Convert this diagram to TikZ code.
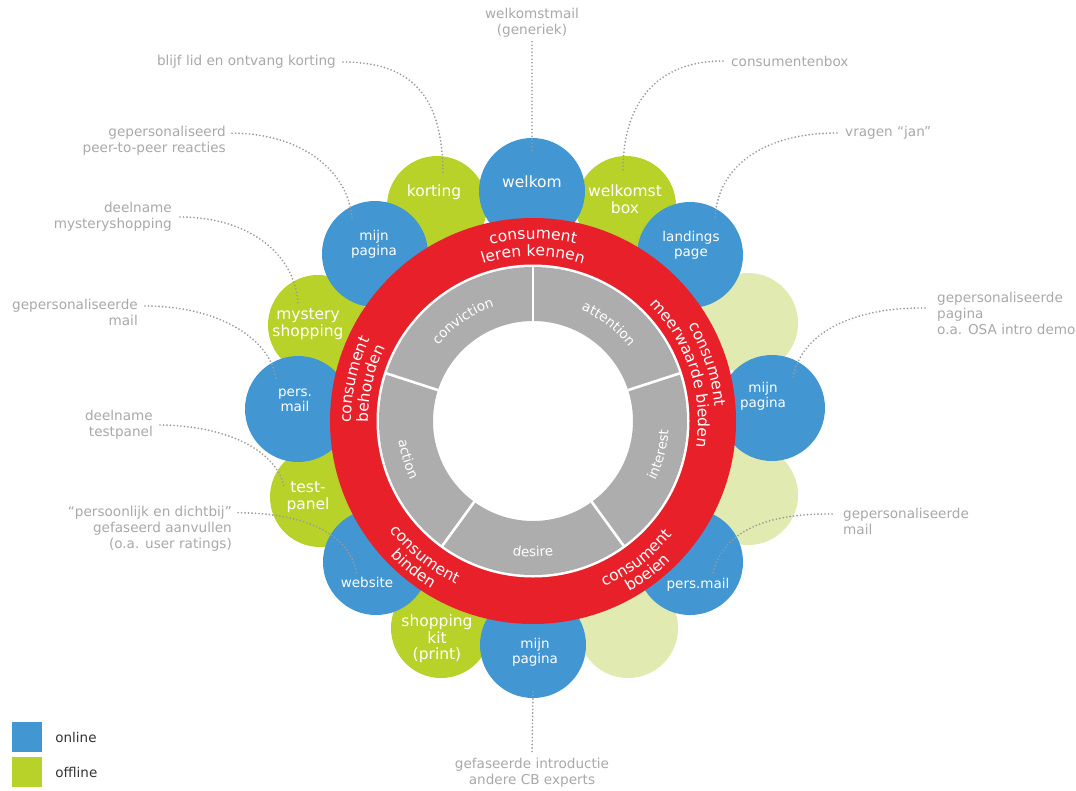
\documentclass[tikz,border=0pt]{standalone}
\usepackage{fontspec}
\setmainfont{DejaVu Sans}
\usetikzlibrary{decorations.text,calc}
\definecolor{cblue}{HTML}{4296D2}
\definecolor{cgreen}{HTML}{B9D22A}
\definecolor{cpale}{HTML}{E1EAB0}
\definecolor{cred}{HTML}{E8202A}
\definecolor{cgrey}{HTML}{ADADAD}
\definecolor{cann}{HTML}{A9A9A9}
\definecolor{cdot}{HTML}{9B9B9B}
\definecolor{clegend}{HTML}{333333}
\newcommand\myredfont{\fontsize{15.5}{18}\selectfont}
\newcommand\mygreyfont{\fontsize{13.5}{16}\selectfont}
\tikzset{
  bluec/.style={circle, fill=cblue, minimum size=106pt, inner sep=0pt},
  greenc/.style={circle, fill=cgreen, minimum size=100pt, inner sep=0pt},
  palec/.style={circle, fill=cpale, minimum size=100pt, inner sep=0pt},
  ctxt/.style={text=white, align=center, font=\fontsize{13.5}{15}\selectfont, inner sep=0pt},
  ctxtbig/.style={ctxt, font=\fontsize{15.5}{16.5}\selectfont},
  ann/.style={text=cann, font=\fontsize{13.6}{16}\selectfont, inner sep=0pt},
  conn/.style={draw=cdot, line width=1.9pt, line cap=round, dash pattern=on 0pt off 3.5pt},
  legbox/.style={minimum size=30pt, inner sep=0pt},
  legtext/.style={text=clegend, font=\fontsize{13.5}{16}\selectfont, inner sep=0pt, anchor=west},
  redlbl/.style={decorate, decoration={text along path, text align=center, text color=white, text={|\myredfont|#1}}},
  greylbl/.style={decorate, decoration={text along path, text align=center, text color=white, text={|\mygreyfont|#1}}}
}
\begin{document}
\begin{tikzpicture}[x=1pt,y=1pt]
\useasboundingbox (0,0) rectangle (1076,-790);
\fill[white] (0,0) rectangle (1076,-790);

% green (offline) circles
\node[greenc] (korting) at (437,-206) {};
\node[greenc] (wbox) at (626,-206) {};
\node[palec] (pale1) at (748,-323) {};
\node[palec] (pale2) at (748,-495) {};
\node[palec] (pale3) at (628,-628) {};
\node[greenc] (shop) at (441,-628) {};
\node[greenc] (test) at (320,-497) {};
\node[greenc] (myst) at (318,-325) {};
% blue (online) circles
\node[bluec] (welkom) at (532,-191) {};
\node[bluec] (landing) at (690,-255) {};
\node[bluec] (mpr) at (772,-408) {};
\node[bluec] (pmr) at (690,-562) {};
\node[bluec] (mpb) at (533,-645) {};
\node[bluec] (web) at (376,-562) {};
\node[bluec] (pml) at (298,-409) {};
\node[bluec] (mptl) at (375,-254) {};

% circle texts
\node[ctxtbig] (twelkom) at (532,-182) {welkom};
\node[ctxtbig] (tkorting) at (434,-192) {korting};
\node[ctxtbig] (twbox) at (625,-199) {welkomst\\box};
\node[ctxt] (tlanding) at (691,-245) {landings\\page};
\node[ctxt] (tmptl) at (374,-244) {mijn\\pagina};
\node[ctxtbig] (tmyst) at (308,-324) {mystery\\shopping};
\node[ctxt] (tpml) at (295,-400) {pers.\\mail};
\node[ctxtbig] (ttest) at (308,-497) {test-\\panel};
\node[ctxt] (tweb) at (367,-582) {website};
\node[ctxtbig] (tshop) at (437,-639) {shopping\\kit\\(print)};
\node[ctxt] (tmpb) at (535,-652) {mijn\\pagina};
\node[ctxt] (tpmr) at (698,-585) {pers.mail};
\node[ctxt] (tmpr) at (763,-396) {mijn\\pagina};

% annotations
\node[ann, align=center] (a1) at (532,-23) {welkomstmail\\(generiek)};
\node[ann, anchor=east] (a2) at (336,-62) {blijf lid en ontvang korting};
\node[ann, anchor=west] (a3) at (731,-61) {consumentenbox};
\node[ann, anchor=west] (a4) at (845,-133) {vragen “jan”};
\node[ann, anchor=east, align=right] (a5) at (226,-141) {gepersonaliseerd\\peer-to-peer reacties};
\node[ann, anchor=east, align=right] (a6) at (172,-217) {deelname\\mysteryshopping};
\node[ann, anchor=east, align=right] (a7) at (138,-312) {gepersonaliseerde\\mail};
\node[ann, anchor=east, align=right] (a8) at (153,-425) {deelname\\testpanel};
\node[ann, anchor=east, align=right] (a9) at (232,-529) {“persoonlijk en dichtbij”\\gefaseerd aanvullen\\(o.a. user ratings)};
\node[ann, anchor=west, align=left] (a10) at (937,-313) {gepersonaliseerde\\pagina\\o.a. OSA intro demo};
\node[ann, anchor=west, align=left] (a11) at (843,-521) {gepersonaliseerde\\mail};
\node[ann, align=center] (a12) at (532,-773) {gefaseerde introductie\\andere CB experts};

% connector end points
\coordinate (e1) at (532,-152);
\coordinate (e2) at (443,-175);
\coordinate (e3) at (623,-170);
\coordinate (e4) at (715,-218);
\coordinate (e5) at (352,-218);
\coordinate (e6) at (298,-303);
\coordinate (e7) at (276,-380);
\coordinate (e8) at (284,-487);
\coordinate (e9) at (357,-575);
\coordinate (e10) at (793,-378);
\coordinate (e11) at (713,-573);
\coordinate (e12) at (533,-692);

% connectors
\draw[conn] ([yshift=-4pt]a1.south) -- (e1);
\draw[conn] ([xshift=7pt]a2.east) .. controls (415,-62) and (443,-100) .. (e2);
\draw[conn] ([xshift=-8pt]a3.west) .. controls (655,-61) and (623,-105) .. (e3);
\draw[conn] ([xshift=-8pt]a4.west) .. controls (765,-133) and (718,-165) .. (e4);
\draw[conn] ([xshift=6pt,yshift=-7pt]a5.north east) .. controls (300,-133) and (348,-170) .. (e5);
\draw[conn] ([xshift=8pt]a6.east) .. controls (250,-217) and (295,-255) .. (e6);
\draw[conn] ([xshift=7pt,yshift=6pt]a7.east) .. controls (220,-306) and (272,-340) .. (e7);
\draw[conn] ([xshift=7pt]a8.east) .. controls (235,-426) and (278,-455) .. (e8);
\draw[conn] ([xshift=6pt,yshift=-6.5pt]a9.north east) .. controls (315,-513) and (352,-540) .. (e9);
\draw[conn] ([xshift=-12pt,yshift=-16.5pt]a10.north west) .. controls (850,-307) and (800,-335) .. (e10);
\draw[conn] ([xshift=-11pt,yshift=-6.5pt]a11.north west) .. controls (760,-513) and (722,-535) .. (e11);
\draw[conn] (e12) -- ([yshift=5pt]a12.north);

% central rings
\coordinate (C) at (533,-421);
\fill[cred] (C) circle[radius=203pt];
\fill[white] (C) circle[radius=156.5pt];
\fill[cgrey, even odd rule] (C) circle[radius=154pt] (C) circle[radius=100pt];
\foreach \a in {18,90,162,234,306}
  \draw[white, line width=2.6pt] ($(C)+(\a:98pt)$) -- ($(C)+(\a:156pt)$);

% red ring labels
\path[redlbl={consument}] ($(C)+(135:182pt)$) arc[start angle=135, end angle=45, radius=182pt];
\path[redlbl={leren kennen}] ($(C)+(140:165pt)$) arc[start angle=140, end angle=40, radius=165pt];
\path[redlbl={consument}] ($(C)+(63:182pt)$) arc[start angle=63, end angle=-27, radius=182pt];
\path[redlbl={meerwaarde bieden}] ($(C)+(72:165pt)$) arc[start angle=72, end angle=-36, radius=165pt];
\path[redlbl={consument}] ($(C)+(212:182pt)$) arc[start angle=212, end angle=122, radius=182pt];
\path[redlbl={behouden}] ($(C)+(212:165pt)$) arc[start angle=212, end angle=122, radius=165pt];
\path[redlbl={consument}] ($(C)+(186:180pt)$) arc[start angle=186, end angle=276, radius=180pt];
\path[redlbl={binden}] ($(C)+(186:196pt)$) arc[start angle=186, end angle=276, radius=196pt];
\path[redlbl={consument}] ($(C)+(262:180pt)$) arc[start angle=262, end angle=352, radius=180pt];
\path[redlbl={boeien}] ($(C)+(262:196pt)$) arc[start angle=262, end angle=352, radius=196pt];

% grey ring labels
\path[greylbl={conviction}] ($(C)+(165:121pt)$) arc[start angle=165, end angle=85, radius=121pt];
\path[greylbl={attention}] ($(C)+(92:121pt)$) arc[start angle=92, end angle=12, radius=121pt];
\path[greylbl={interest}] ($(C)+(-55:136pt)$) arc[start angle=-55, end angle=25, radius=136pt];
\path[greylbl={desire}] ($(C)+(230:136pt)$) arc[start angle=230, end angle=310, radius=136pt];
\path[greylbl={action}] ($(C)+(157:136pt)$) arc[start angle=157, end angle=237, radius=136pt];

% legend
\node[legbox, fill=cblue] (lon) at (27,-737) {};
\node[legbox, fill=cgreen] (loff) at (27,-772) {};
\node[legtext] (ton) at ([xshift=13pt]lon.east) {online};
\node[legtext] (toff) at ([xshift=13pt]loff.east) {offline};
\end{tikzpicture}
\end{document}
